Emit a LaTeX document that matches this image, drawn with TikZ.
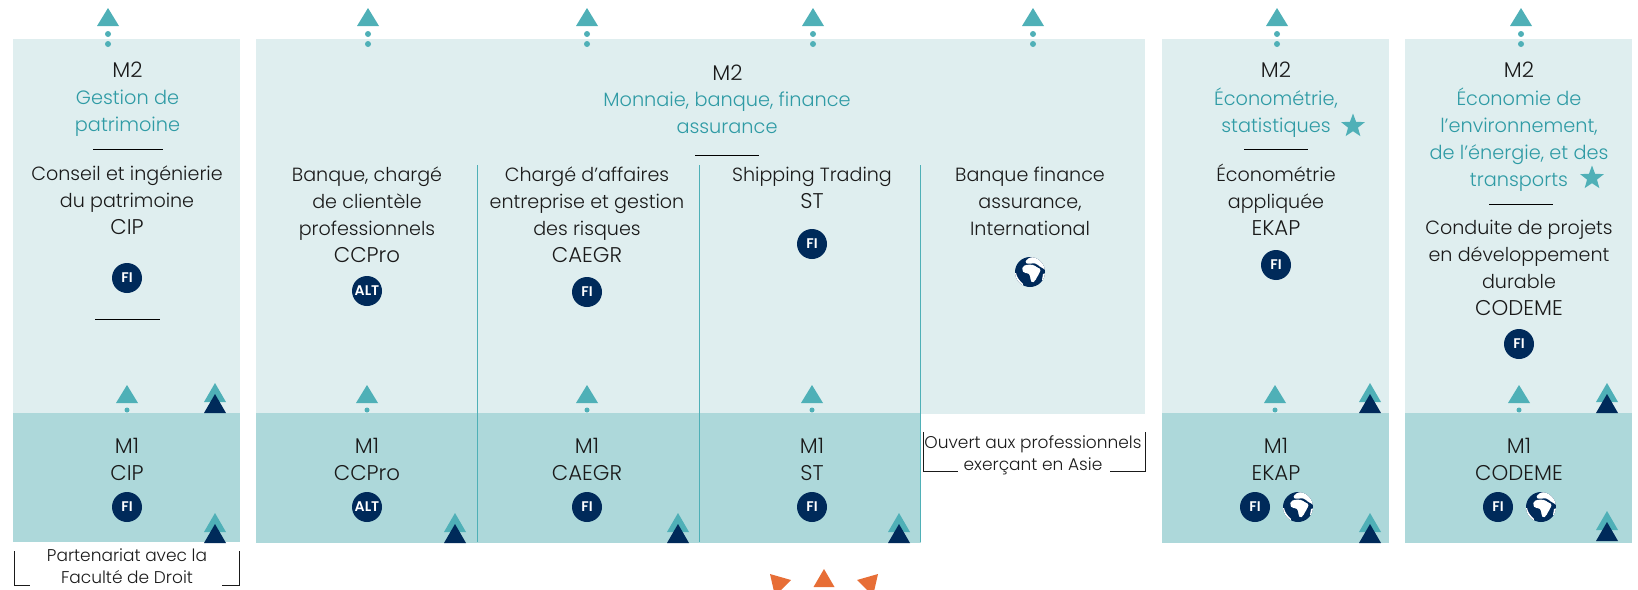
\documentclass[tikz,border=0pt]{standalone}
\usepackage{fontspec}
\setmainfont{Poppins}[UprightFont=* Light,BoldFont=* SemiBold]
\usetikzlibrary{shapes.geometric}
\definecolor{lightbox}{HTML}{DFEEEF}
\definecolor{midbox}{HTML}{ADD8DA}
\definecolor{tealc}{HTML}{4FB0B7}
\definecolor{tealt}{HTML}{2F9BA5}
\definecolor{navyc}{HTML}{002A5A}
\definecolor{orangec}{HTML}{E76E36}
\definecolor{inkc}{HTML}{1A1A1A}
\newcommand{\cp}[1]{{\fontsize{21.3}{27}\selectfont #1}}
\tikzset{
 txt/.style={inner sep=0pt,align=center,text=inkc,font=\fontsize{19.1}{27}\selectfont},
 ttl/.style={txt,text=tealt,font=\fontsize{19.3}{27}\selectfont},
 small/.style={inner sep=0pt,align=center,text=inkc,font=\fontsize{17}{22.5}\selectfont},
 badge/.style={circle,fill=navyc,minimum size=30pt,inner sep=0pt,text=white,font=\fontsize{14}{14}\bfseries\selectfont},
 rule/.style={line width=0.8pt,black},
 vline/.style={line width=1pt,tealc},
 frame/.style={line width=0.8pt,inkc},
}
\newcommand{\tri}[4]{\fill[#4] (#1-11,#3) -- (#1,#2) -- (#1+11,#3) -- cycle;}
\newcommand{\up}[1]{\tri{#1}{8}{26}{tealc}\fill[tealc] (#1,34) circle (3) (#1,44) circle (3);}
\newcommand{\low}[1]{\tri{#1}{385}{403}{tealc}\fill[tealc] (#1,410) circle (2.5);}
\newcommand{\dbl}[2]{\tri{#1}{#2}{#2+19}{tealc}\tri{#1}{#2+11}{#2+30}{navyc}}
\newcommand{\globe}[3]{%
 \begin{scope}[shift={(#1,#2)}]
 \node[circle,fill=navyc,minimum size=30pt,inner sep=0pt] (#3) at (0,0) {};
 \begin{scope}
 \clip (0,0) circle (15);
 % Eurasia
 \fill[white,rounded corners=1.5pt] (-5,-9) -- (-3,-13) -- (2,-15) -- (12,-15) -- (16,-6) -- (16,-1) -- (13,-4) -- (10,-5) -- (7,-8) -- (3,-9) -- (0,-8) -- cycle;
 % Africa
 \fill[white,rounded corners=1.5pt] (-7,-6) -- (-2,-7.5) -- (4,-7) -- (7,-4.5) -- (11,-3) -- (9,2) -- (7,5) -- (5,9) -- (2,11) -- (0.5,8) -- (0,3) -- (-2,1) -- (-6,1) -- (-8,-2) -- cycle;
 % lower left rim
 \fill[white] (-16,1) -- (-14,1) .. controls (-13,6) and (-10,9) .. (-7,12) -- (-8,16) -- (-16,16) -- cycle;
 % right rim
 \fill[white] (13,2) -- (16,1) -- (16,8) -- (12,8) -- cycle;
 \end{scope}
 \end{scope}}
\begin{document}
\begin{tikzpicture}[x=1pt,y=-1pt]
\useasboundingbox (0,0) rectangle (1638,589);
\clip (0,0) rectangle (1638,589);
% boxes
\fill[lightbox] (13,39) rectangle (240,414);
\fill[lightbox] (256,39) rectangle (1145,414);
\fill[lightbox] (1162,39) rectangle (1389,414);
\fill[lightbox] (1405,39) rectangle (1632,414);
\fill[midbox] (13,413) rectangle (240,542);
\fill[midbox] (256,413) rectangle (921,543);
\fill[midbox] (1162,413) rectangle (1389,543);
\fill[midbox] (1405,413) rectangle (1632,543);
% verticals
\coordinate (va1) at (477,165); \coordinate (vb1) at (477,542);
\coordinate (va2) at (699,165); \coordinate (vb2) at (699,542);
\coordinate (va3) at (920.5,165); \coordinate (vb3) at (920.5,542);
\draw[vline] (va1) -- (vb1); \draw[vline] (va2) -- (vb2); \draw[vline] (va3) -- (vb3);
% triangles
\up{108}\up{368}\up{587}\up{813}\up{1033}\up{1277}\up{1521}
\low{127}\low{367}\low{587}\low{812}\low{1275}\low{1519}
\dbl{215}{383}\dbl{1370}{383}\dbl{1607}{383}
\dbl{215}{513}\dbl{455}{513}\dbl{678}{513}\dbl{899}{513}\dbl{1370}{513}\dbl{1607}{511}
% orange
\fill[orangec] (813.5,587) -- (824,569) -- (834.5,587) -- cycle;
\fill[orangec] (770,574) -- (791,580) -- (775,596) -- cycle;
\fill[orangec] (878,574) -- (857,580) -- (873,596) -- cycle;
% column 1
\node[txt] (a1) at (127.5,70) {\cp{M2}};
\node[ttl] (a2) at (127.5,113) {Gestion de\\patrimoine};
\coordinate (r1a) at (93,149); \coordinate (r1b) at (163,149); \draw[rule] (r1a) -- (r1b);
\node[txt] (a3) at (127,200) {Conseil et ingénierie\\du patrimoine\\\cp{CIP}};
\node[badge] (a4) at (127,278) {FI};
\coordinate (r2a) at (95,319); \coordinate (r2b) at (160,319); \draw[rule] (r2a) -- (r2b);
\node[txt] (a5) at (127,459) {\cp{M1}\\\cp{CIP}};
\node[badge] (a6) at (127,507) {FI};
\node[small] (a7) at (127,566) {Partenariat avec la\\Faculté de Droit};
\coordinate (f1a) at (14,551); \coordinate (f1b) at (14,585); \coordinate (f1c) at (30,585);
\coordinate (f1d) at (239,551); \coordinate (f1e) at (239,585); \coordinate (f1f) at (222,585);
\draw[frame] (f1a) -- (f1b) -- (f1c); \draw[frame] (f1d) -- (f1e) -- (f1f);
% middle title
\node[txt] (b1) at (727.5,73) {\cp{M2}};
\node[ttl] (b2) at (727,113) {Monnaie, banque, finance\\assurance};
\coordinate (r3a) at (695,155); \coordinate (r3b) at (759,155); \draw[rule] (r3a) -- (r3b);
% CCPro
\node[txt] (c1) at (367,215) {Banque, chargé\\de clientèle\\professionnels\\\cp{CCPro}};
\node[badge] (c2) at (367,291) {ALT};
\node[txt] (c3) at (367,459) {\cp{M1}\\\cp{CCPro}};
\node[badge] (c4) at (367,507) {ALT};
% CAEGR
\node[txt] (d1) at (587,215) {Chargé d’affaires\\entreprise et gestion\\des risques\\\cp{CAEGR}};
\node[badge] (d2) at (587,292) {FI};
\node[txt] (d3) at (587,459) {\cp{M1}\\\cp{CAEGR}};
\node[badge] (d4) at (587,507) {FI};
% ST
\node[txt] (e1) at (812,188) {Shipping Trading\\\cp{ST}};
\node[badge] (e2) at (812,244) {FI};
\node[txt] (e3) at (812,459) {\cp{M1}\\\cp{ST}};
\node[badge] (e4) at (812,507) {FI};
% BFA
\node[txt] (g1) at (1030,201) {Banque finance\\assurance,\\International};
\globe{1030}{272}{g2}
\node[small] (g3) at (1033,455.5) {Ouvert aux professionnels\\exerçant en Asie};
\coordinate (f2a) at (923,432); \coordinate (f2b) at (923,471); \coordinate (f2c) at (958,471);
\coordinate (f2d) at (1145,432); \coordinate (f2e) at (1145,471); \coordinate (f2f) at (1110,471);
\draw[frame] (f2a) -- (f2b) -- (f2c); \draw[frame] (f2d) -- (f2e) -- (f2f);
% EKAP
\node[txt] (h1) at (1276,70) {\cp{M2}};
\node[ttl] (h2) at (1276,113) {Économétrie,\\statistiques};
\node[star,star points=5,star point ratio=2.4,fill=tealc,minimum size=25pt,inner sep=0pt] (h3) at (1353,126) {};
\coordinate (r4a) at (1244,149); \coordinate (r4b) at (1308,149); \draw[rule] (r4a) -- (r4b);
\node[txt] (h4) at (1276,200) {Économétrie\\appliquée\\\cp{EKAP}};
\node[badge] (h5) at (1276,265) {FI};
\node[txt] (h6) at (1276,459) {\cp{M1}\\\cp{EKAP}};
\node[badge] (h7) at (1255,507) {FI};
\globe{1298}{507}{h8}
% CODEME
\node[txt] (i1) at (1519,70) {\cp{M2}};
\node[ttl] (i2) at (1519,140) {Économie de\\l’environnement,\\de l’énergie, et des\\transports};
\node[star,star points=5,star point ratio=2.4,fill=tealc,minimum size=25pt,inner sep=0pt] (i3) at (1592,178) {};
\coordinate (r5a) at (1489,204); \coordinate (r5b) at (1553,204); \draw[rule] (r5a) -- (r5b);
\node[txt] (i4) at (1519,268) {Conduite de projets\\en développement\\durable\\\cp{CODEME}};
\node[badge] (i5) at (1519,344) {FI};
\node[txt] (i6) at (1519,459) {\cp{M1}\\\cp{CODEME}};
\node[badge] (i7) at (1498,507) {FI};
\globe{1541}{507}{i8}
\end{tikzpicture}
\end{document}
